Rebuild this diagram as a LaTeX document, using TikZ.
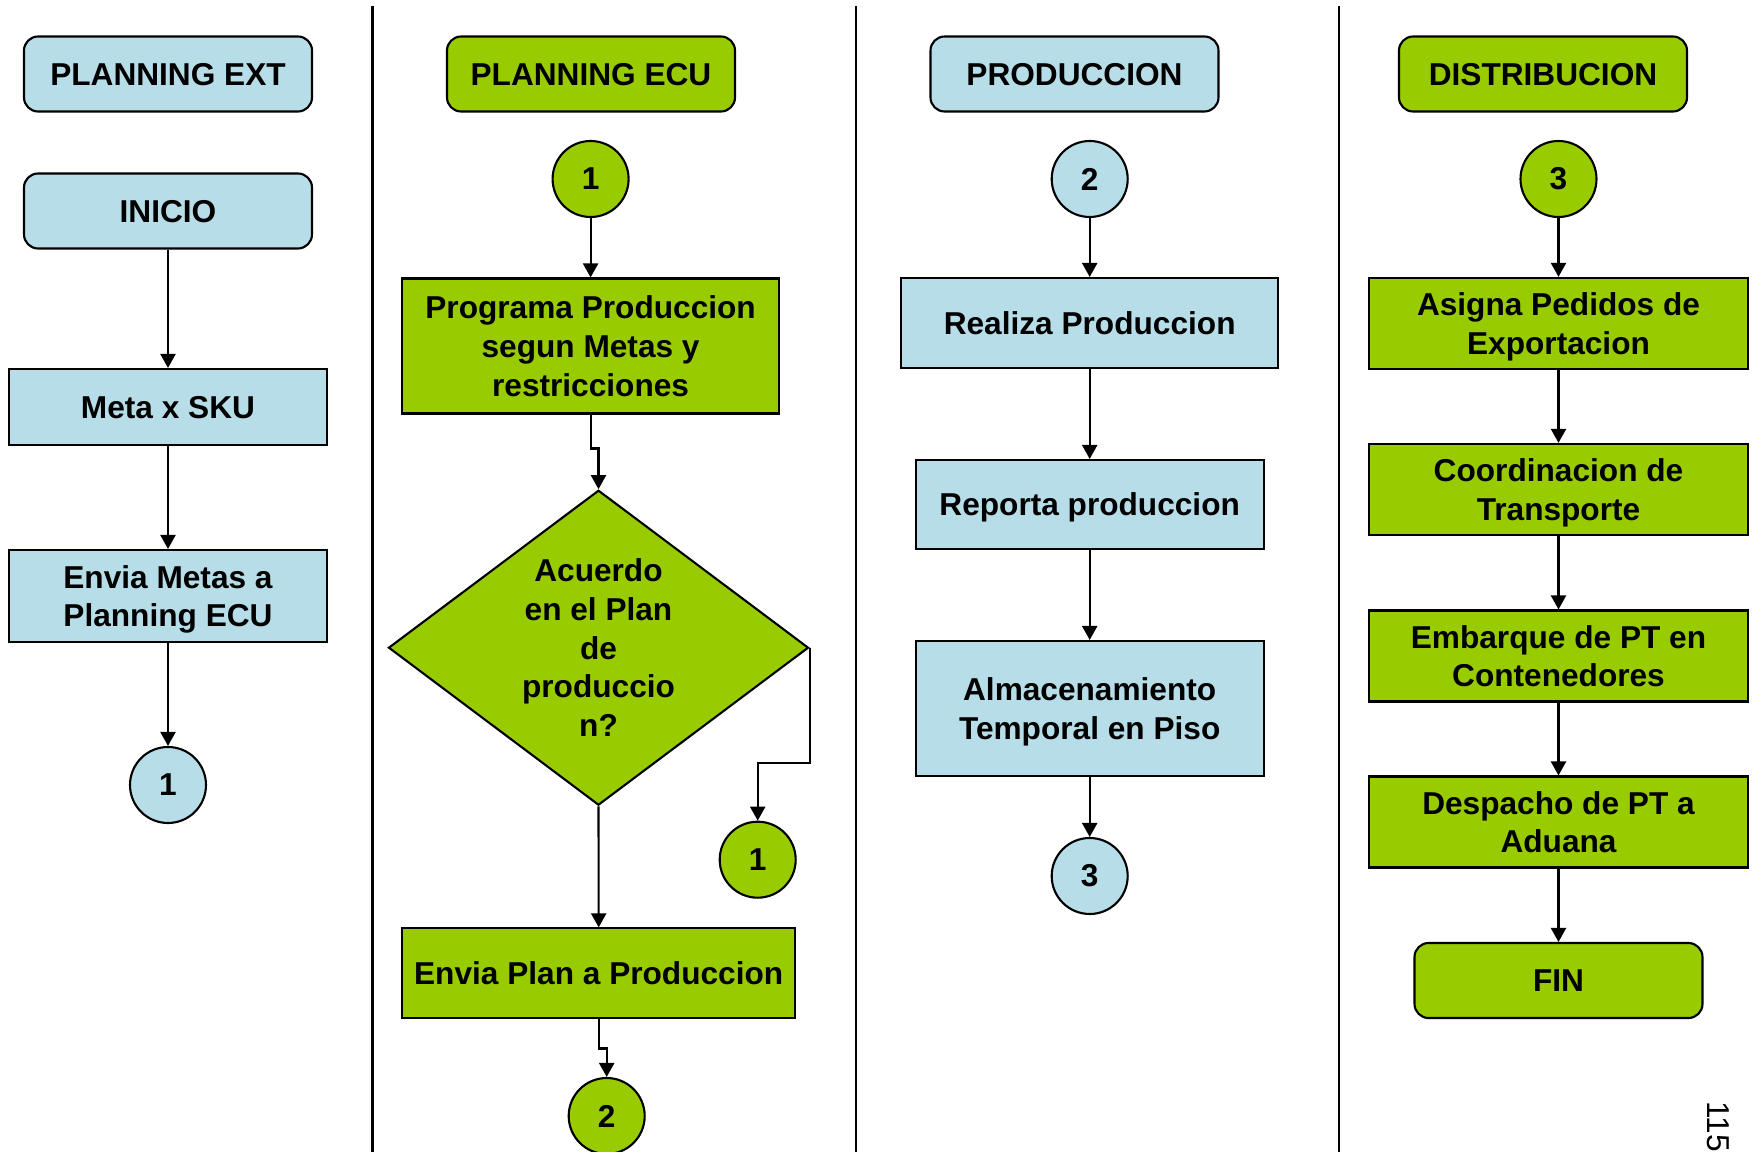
\documentclass[tikz,border=0pt]{standalone}
\usepackage{fontspec}
\setmainfont{Liberation Sans}
\usepackage{tikz}
\usetikzlibrary{arrows.meta, positioning, shapes.geometric}
\usepackage{xcolor}
\definecolor{celeste}{RGB}{183,222,232}
\definecolor{verde}{RGB}{153,204,0}

\begin{document}
\begin{tikzpicture}[>={Triangle[length=4pt,width=4.3pt]},line width=0.6pt,
    font=\fontsize{9}{11}\selectfont\bfseries]
  \tikzstyle{head}=[draw,rounded corners=4pt,minimum width=2.88cm,minimum height=0.75cm,inner sep=0pt,text depth=0pt]
  \tikzstyle{proc}=[draw,align=center,inner sep=0pt,text depth=0pt]
  \tikzstyle{conn}=[draw,circle,minimum size=0.76cm,inner sep=0pt]

  \useasboundingbox (0,0) rectangle (17.54,-11.52);

  % carriles
  \draw (3.725,-0.06) -- (3.725,-11.52);
  \draw (8.557,-0.06) -- (8.557,-11.52);
  \draw (13.39,-0.06) -- (13.39,-11.52);

  % PLANNING EXT
  \node[head,fill=celeste] (ext_0) at (1.68,-0.74) {PLANNING EXT};
  \node[head,fill=celeste] (ext_1) [node distance=1.37cm,below of=ext_0] {INICIO};
  \node[proc,fill=celeste,minimum width=3.18cm,minimum height=0.76cm] (ext_2) [node distance=1.96cm,below of=ext_1] {Meta x SKU};
  \node[proc,fill=celeste,minimum width=3.18cm,minimum height=0.92cm] (ext_3) [node distance=1.89cm,below of=ext_2] {Envia Metas a\\Planning ECU};
  \node[conn,fill=celeste] (ext_4) [node distance=1.89cm,below of=ext_3] {1};

  \path[->]
  (ext_1) edge (ext_2)
  (ext_2) edge (ext_3)
  (ext_3) edge (ext_4)
  ;

  % PLANNING ECU
  \node[head,fill=verde] (ecu_0) at (5.91,-0.74) {PLANNING ECU};
  \node[conn,fill=verde] (ecu_1) at (5.906,-1.79) {1};
  \node[proc,fill=verde,minimum width=3.77cm,minimum height=1.35cm] (ecu_2) [node distance=1.67cm,below of=ecu_1] {Programa Produccion\\segun Metas y\\restricciones};
  \node[diamond,draw,fill=verde,aspect=1.33,minimum width=4.2cm,minimum height=3.15cm,inner sep=0pt,align=center] (ecu_3) at (5.985,-6.477) {Acuerdo\\en el Plan\\de\\produccio\\n?};
  \node[conn,fill=verde] (ecu_4) at (7.577,-8.597) {1};
  \node[proc,fill=verde,minimum width=3.93cm,minimum height=0.9cm] (ecu_5) at (5.987,-9.734) {Envia Plan a Produccion};
  \node[conn,fill=verde] (ecu_6) at (6.067,-11.16) {2};

  \draw[->] (ecu_1) -- (ecu_2);
  \draw[->] (ecu_2.south) -- ++(0,-0.34) -| (ecu_3.north);
  \draw[->] (ecu_3.east) -- ++(0,-1.15) -| (ecu_4.north);
  \draw[->] (ecu_3.south) -- (ecu_5.north);
  \draw[->] (ecu_5.south) -- ++(0,-0.29) -| (ecu_6.north);

  % PRODUCCION
  \node[head,fill=celeste] (prod_0) at (10.745,-0.74) {PRODUCCION};
  \node[conn,fill=celeste] (prod_1) at (10.897,-1.79) {2};
  \node[proc,fill=celeste,minimum width=3.77cm,minimum height=0.9cm] (prod_2) [node distance=1.44cm,below of=prod_1] {Realiza Produccion};
  \node[proc,fill=celeste,minimum width=3.48cm,minimum height=0.89cm] (prod_3) [node distance=1.815cm,below of=prod_2] {Reporta produccion};
  \node[proc,fill=celeste,minimum width=3.48cm,minimum height=1.35cm] (prod_4) [node distance=2.04cm,below of=prod_3] {Almacenamiento\\Temporal en Piso};
  \node[conn,fill=celeste] (prod_5) [node distance=1.675cm,below of=prod_4] {3};

  \path[->]
  (prod_1) edge (prod_2)
  (prod_2) edge (prod_3)
  (prod_3) edge (prod_4)
  (prod_4) edge (prod_5)
  ;

  % DISTRIBUCION
  \node[head,fill=verde] (dist_0) at (15.43,-0.74) {DISTRIBUCION};
  \node[conn,fill=verde] (dist_1) at (15.585,-1.79) {3};
  \node[proc,fill=verde,minimum width=3.79cm,minimum height=0.91cm] (dist_2) [node distance=1.444cm,below of=dist_1] {Asigna Pedidos de\\Exportacion};
  \node[proc,fill=verde,minimum width=3.79cm,minimum height=0.91cm] (dist_3) [node distance=1.66cm,below of=dist_2] {Coordinacion de\\Transporte};
  \node[proc,fill=verde,minimum width=3.79cm,minimum height=0.91cm] (dist_4) [node distance=1.666cm,below of=dist_3] {Embarque de PT en\\Contenedores};
  \node[proc,fill=verde,minimum width=3.79cm,minimum height=0.91cm] (dist_5) [node distance=1.66cm,below of=dist_4] {Despacho de PT a\\Aduana};
  \node[head,fill=verde] (dist_6) [node distance=1.585cm,below of=dist_5] {FIN};

  \path[->]
  (dist_1) edge (dist_2)
  (dist_2) edge (dist_3)
  (dist_3) edge (dist_4)
  (dist_4) edge (dist_5)
  (dist_5) edge (dist_6)
  ;

  \node[font=\fontsize{9}{11}\selectfont\mdseries,rotate=-90,inner sep=0pt] (pag) at (17.185,-11.265) {115};
\end{tikzpicture}
\end{document}
